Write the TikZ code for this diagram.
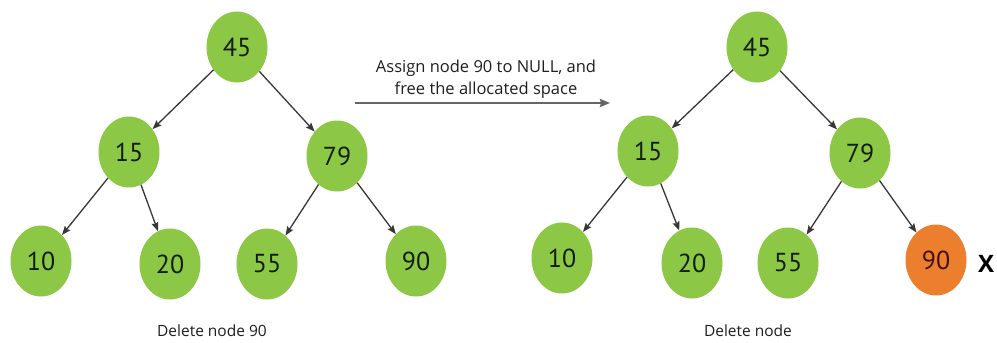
\documentclass[tikz,border=0pt]{standalone}
\usepackage{fontspec}
\setmainfont{Open Sans}
\newfontfamily\digitfont{PT Sans}
\usetikzlibrary{arrows.meta,shapes.geometric}
\definecolor{nodegreen}{RGB}{141,199,70}
\definecolor{nodeorange}{RGB}{236,127,46}
\definecolor{numtext}{RGB}{18,30,10}
\definecolor{deltext}{RGB}{70,15,8}
\definecolor{linegray}{RGB}{55,55,55}
\definecolor{labeltext}{RGB}{30,30,30}
\tikzset{
  treenode/.style={ellipse, fill=nodegreen, minimum width=61pt, minimum height=71pt, inner sep=0pt,
    text=numtext, font=\digitfont\fontsize{26}{30}\selectfont},
  delnode/.style={treenode, fill=nodeorange, text=deltext},
  edge/.style={draw=linegray, line width=1.3pt, -{Stealth[length=9pt,width=7pt,inset=1.5pt]}, color=linegray},
  caption/.style={text=labeltext, font=\fontsize{15.5}{18}\selectfont},
  stepnote/.style={text=labeltext, font=\fontsize{16.5}{22}\selectfont, align=center}
}
\begin{document}
\begin{tikzpicture}[x=1pt,y=-1pt]
\useasboundingbox (0,0) rectangle (997,343);
% left tree
\node[treenode] (a45) at (237,47) {45};
\node[treenode] (a15) at (129,152) {15};
\node[treenode] (a79) at (337,156) {79};
\node[treenode] (a10) at (41,261) {10};
\node[treenode] (a20) at (170,264) {20};
\node[treenode] (a55) at (267,264) {55};
\node[treenode] (a90) at (416,261) {90};
\draw[edge] (a45) -- (a15);
\draw[edge] (a45) -- (a79);
\draw[edge] (a15) -- (a10);
\draw[edge] (a15) -- (a20);
\draw[edge] (a79) -- (a55);
\draw[edge] (a79) -- (a90);
\node[caption] (capa) at (212,331) {Delete node 90};
% middle arrow
\coordinate (arrS) at (355,103);
\coordinate (arrE) at (610,103);
\draw[draw=gray!80!black, line width=2pt, -{Stealth[length=10pt,width=8pt,inset=1pt]}] (arrS) -- (arrE);
\node[stepnote] (note) at (486,79) {Assign node 90 to NULL, and\\free the allocated space};
% right tree
\node[treenode] (b45) at (757,47) {45};
\node[treenode] (b15) at (648,151) {15};
\node[treenode] (b79) at (860,153) {79};
\node[treenode] (b10) at (562,258) {10};
\node[treenode] (b20) at (692,263) {20};
\node[treenode] (b55) at (788,263) {55};
\node[delnode] (b90) at (936,260) {90};
\draw[edge] (b45) -- (b15);
\draw[edge] (b45) -- (b79);
\draw[edge] (b15) -- (b10);
\draw[edge] (b15) -- (b20);
\draw[edge] (b79) -- (b55);
\draw[edge] (b79) -- (b90);
\node[font=\bfseries\fontsize{24}{28}\selectfont, text=black] (xmark) at (986,264) {X};
\node[caption] (capb) at (748,331) {Delete node};
\end{tikzpicture}
\end{document}
